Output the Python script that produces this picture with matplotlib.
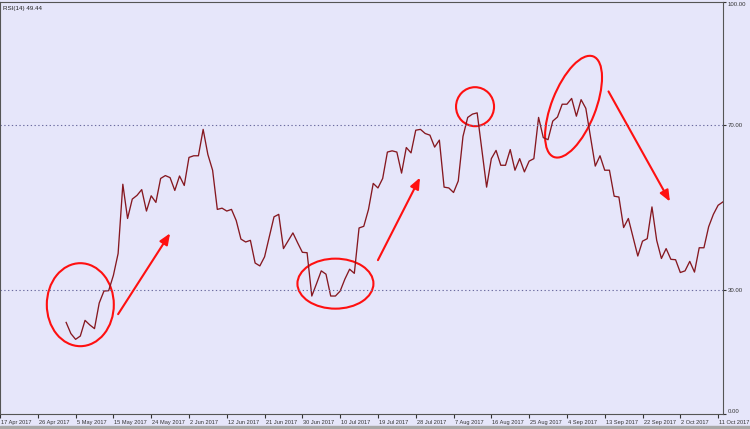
import numpy as np
import matplotlib
matplotlib.use('Agg')
import matplotlib.pyplot as plt
from matplotlib.patches import Ellipse, Rectangle
from matplotlib.transforms import ScaledTranslation

plt.rcParams['font.family'] = ['Liberation Sans', 'DejaVu Sans']

## data (one value per daily bar) ##
first_bar = 14
rsi = [22.2, 19.5, 18.1, 18.9, 22.7, 21.6, 20.7, 26.9, 29.8, 29.9,
       33.6, 38.9, 55.7, 47.4, 52.1, 53.0, 54.4, 49.2, 52.9, 51.3,
       57.1, 57.8, 57.3, 54.2, 57.7, 55.4, 62.2, 62.6, 62.6, 69.0,
       62.9, 59.1, 49.6, 49.9, 49.2, 49.6, 46.9, 42.4, 41.7, 42.1,
       36.6, 35.9, 38.1, 42.9, 47.8, 48.4, 40.1, 42.0, 43.9, 41.5,
       39.2, 39.1, 28.6, 31.6, 34.7, 33.9, 28.6, 28.6, 29.8, 32.7,
       35.1, 34.1, 45.1, 45.5, 49.6, 55.9, 54.8, 57.1, 63.5, 63.8,
       63.5, 58.4, 64.6, 63.3, 68.8, 69.0, 68.0, 67.6, 64.7, 66.4,
       55.0, 54.8, 53.7, 56.5, 67.3, 71.9, 72.7, 73.0, 63.9, 55.0,
       61.9, 63.9, 60.3, 60.3, 64.1, 59.1, 61.9, 58.7, 61.3, 61.9,
       71.9, 67.0, 66.5, 71.0, 72.0, 75.1, 75.1, 76.5, 72.2, 76.2,
       74.1, 67.1, 60.1, 62.6, 59.1, 59.1, 52.8, 52.6, 45.2, 47.4,
       42.9, 38.3, 41.9, 42.5, 50.2, 42.1, 37.7, 40.1, 37.5, 37.4,
       34.3, 34.7, 37.0, 34.4, 40.3, 40.3, 45.4, 48.4, 50.6, 51.4]
date_labels = ['17 Apr 2017', '26 Apr 2017', '5 May 2017', '15 May 2017',
               '24 May 2017', '2 Jun 2017', '12 Jun 2017', '21 Jun 2017',
               '30 Jun 2017', '10 Jul 2017', '19 Jul 2017', '28 Jul 2017',
               '7 Aug 2017', '16 Aug 2017', '25 Aug 2017', '4 Sep 2017',
               '13 Sep 2017', '22 Sep 2017', '2 Oct 2017', '11 Oct 2017']
label_step = 8
levels = [30, 70]
y_ticks = [0, 30, 70, 100]

# hand drawn marks: (bar, value) centres, sizes in pixels, angle
circles = [(17.0, 26.5, 67, 83, 0), (71.0, 31.6, 76, 50, 0),
           (100.55, 74.5, 38, 39, 0), (121.4, 74.5, 44, 108, -21.5)]
arrows = [((25.0, 24.2), (36.0, 43.8)), ((80.0, 37.3), (88.9, 57.3)),
          ((128.8, 78.2), (141.8, 51.5))]

bg = '#e6e6fa'
fig = plt.figure(figsize=(7.5, 4.29), dpi=100, facecolor=bg)
ax = fig.add_axes([0.0, 15 / 429, 723.3 / 750, 412.5 / 429])
ax.set_facecolor(bg)

x = np.arange(len(rsi)) + first_bar
ax.plot(x, rsi, color='#861820', lw=0.95)

for lv in levels:
    ax.axhline(lv, color='#6c6ca0', lw=0.8, ls=(0, (1.2, 2.2)))

ax.set_xlim(0, 153.1)
ax.set_ylim(0, 100)

# right side value axis
ax.yaxis.tick_right()
ax.set_yticks(y_ticks)
ax.set_yticklabels(['%.2f' % v for v in y_ticks])
ax.tick_params(axis='y', labelsize=4.3, length=2, pad=1, colors='#333333')
ylbls = ax.get_yticklabels()
ylbls[0].set_va('bottom')
ylbls[-1].set_va('top')

# date axis
ax.set_xticks(np.arange(len(date_labels)) * label_step)
ax.set_xticklabels(date_labels, ha='left')
ax.tick_params(axis='x', labelsize=4.1, length=3, pad=1.5, colors='#333333')
for lbl in ax.get_xticklabels():
    lbl.set_transform(lbl.get_transform() + ScaledTranslation(1 / 100, 0, fig.dpi_scale_trans))

for s in ax.spines.values():
    s.set_color('#555555')
    s.set_linewidth(0.8)

ax.text(0.004, 0.99, 'RSI(14) 49.44', transform=ax.transAxes, fontsize=4.5,
        va='top', color='#222222')

for cx, cy, w, h, ang in circles:
    tr = fig.dpi_scale_trans + ScaledTranslation(cx, cy, ax.transData)
    ax.add_patch(Ellipse((0, 0), w / 100, h / 100, angle=ang, transform=tr,
                         fill=False, ec='#ff1010', lw=1.5, clip_on=False))

for (x0, y0), (x1, y1) in arrows:
    ax.annotate('', xy=(x1, y1), xytext=(x0, y0),
                arrowprops=dict(arrowstyle='-|>,head_length=0.6,head_width=0.25',
                                color='#ff1010', lw=1.5, mutation_scale=11,
                                shrinkA=0, shrinkB=0))

# grey strip at the bottom
fig.patches.append(Rectangle((0, 0), 1, 3 / 429, transform=fig.transFigure,
                             color='#a8a8a8', zorder=0))

fig.savefig('out.png', dpi=100, facecolor=bg)
